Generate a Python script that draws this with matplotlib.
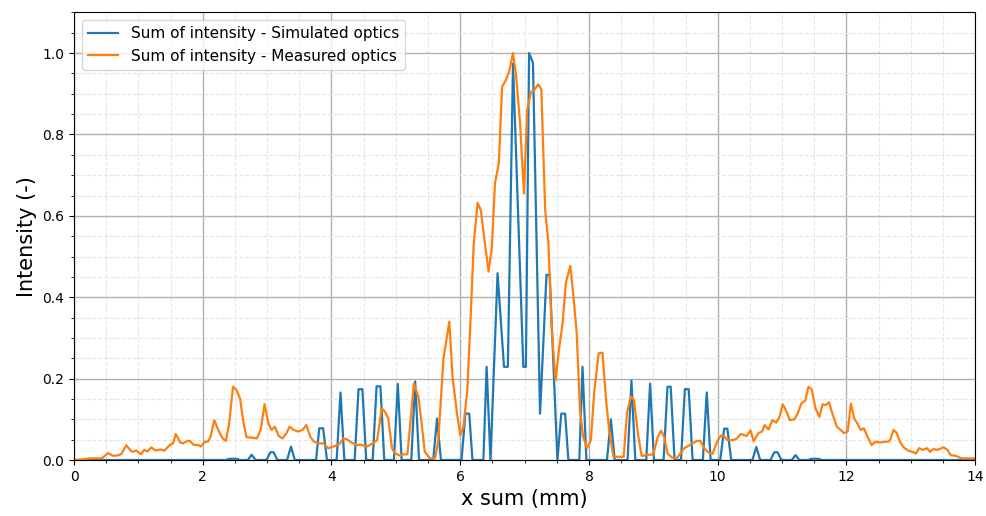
import matplotlib
matplotlib.use("Agg")
import matplotlib.pyplot as plt
from matplotlib.ticker import MultipleLocator

# Simulated optics (x, y vertices)
sim_x = [0.0, 2.35, 2.42, 2.52, 2.58, 2.70, 2.76, 2.82, 2.99, 3.05, 3.10, 3.16,
         3.31, 3.37, 3.43, 3.76, 3.81, 3.87, 3.93, 4.08, 4.14, 4.20, 4.36, 4.42,
         4.48, 4.54, 4.64, 4.70, 4.76, 4.82, 4.97, 5.03, 5.09, 5.24, 5.30, 5.36,
         5.58, 5.64, 5.70, 6.02, 6.08, 6.14, 6.19, 6.36, 6.41, 6.47, 6.58, 6.68,
         6.74, 6.82, 6.98, 7.02, 7.07, 7.13, 7.24, 7.34, 7.39, 7.51, 7.57, 7.63,
         7.68, 7.85, 7.90, 7.96, 8.28, 8.34, 8.40, 8.60, 8.66, 8.72, 8.89, 8.95,
         9.01, 9.16, 9.22, 9.27, 9.33, 9.43, 9.49, 9.55, 9.61, 9.77, 9.83, 9.89,
         10.04, 10.10, 10.15, 10.21, 10.54, 10.60, 10.66, 10.82, 10.88, 10.93,
         10.99, 11.15, 11.21, 11.27, 11.40, 11.46, 11.56, 11.62, 14.0]
sim_y = [0, 0, 0.003, 0.003, 0, 0, 0.013, 0, 0, 0.019, 0.019, 0,
         0, 0.033, 0, 0, 0.078, 0.078, 0, 0, 0.166, 0, 0, 0.174,
         0.174, 0, 0, 0.181, 0.181, 0, 0, 0.187, 0, 0, 0.193, 0,
         0, 0.102, 0, 0, 0.114, 0.114, 0, 0, 0.229, 0, 0.459, 0.229,
         0.229, 0.974, 0.229, 0.229, 1.0, 0.976, 0.114, 0.455, 0.455, 0, 0.114, 0.114,
         0, 0, 0.229, 0, 0, 0.100, 0, 0, 0.195, 0, 0, 0.188,
         0, 0, 0.180, 0.180, 0, 0, 0.174, 0.174, 0, 0, 0.166, 0,
         0, 0.077, 0.077, 0, 0, 0.032, 0, 0, 0.019, 0.019,
         0, 0, 0.012, 0, 0, 0.003, 0.003, 0, 0]

# Measured optics (x, y vertices)
meas_x = [0.0, 0.1, 0.25, 0.43, 0.53, 0.61, 0.70, 0.74, 0.81, 0.90, 0.97, 1.04,
          1.09, 1.14, 1.20, 1.27, 1.34, 1.40, 1.49, 1.54, 1.58, 1.65, 1.70, 1.76,
          1.80, 1.86, 1.93, 1.97, 2.03, 2.08, 2.12, 2.18, 2.24, 2.31, 2.36, 2.41,
          2.47, 2.52, 2.58, 2.63, 2.68, 2.76, 2.84, 2.90, 2.96, 3.02, 3.07, 3.12,
          3.18, 3.24, 3.30, 3.35, 3.41, 3.48, 3.55, 3.61, 3.67, 3.73, 3.80, 3.87,
          3.95, 4.03, 4.08, 4.13, 4.18, 4.24, 4.31, 4.39, 4.47, 4.55, 4.63, 4.71,
          4.78, 4.83, 4.88, 4.94, 4.99, 5.06, 5.12, 5.18, 5.22, 5.28, 5.35, 5.40,
          5.45, 5.53, 5.61, 5.66, 5.74, 5.83, 5.88, 5.95, 6.00, 6.05, 6.11, 6.16,
          6.21, 6.27, 6.32, 6.39, 6.44, 6.49, 6.54, 6.60, 6.65, 6.71, 6.76, 6.82,
          6.87, 6.93, 6.99, 7.04, 7.10, 7.15, 7.21, 7.26, 7.32, 7.37, 7.42, 7.48,
          7.54, 7.59, 7.64, 7.71, 7.76, 7.81, 7.86, 7.91, 7.97, 8.03, 8.08, 8.15,
          8.21, 8.27, 8.32, 8.38, 8.54, 8.59, 8.65, 8.70, 8.76, 8.82, 8.90, 9.00,
          9.07, 9.12, 9.17, 9.22, 9.29, 9.36, 9.42, 9.48, 9.57, 9.68, 9.73, 9.79,
          9.86, 9.92, 9.99, 10.05, 10.10, 10.15, 10.24, 10.30, 10.36, 10.45, 10.51,
          10.56, 10.63, 10.69, 10.73, 10.79, 10.85, 10.91, 10.96, 11.01, 11.07,
          11.12, 11.19, 11.24, 11.30, 11.36, 11.41, 11.46, 11.52, 11.58, 11.63,
          11.68, 11.73, 11.78, 11.85, 11.91, 11.96, 12.02, 12.07, 12.12, 12.17,
          12.22, 12.27, 12.33, 12.39, 12.45, 12.52, 12.60, 12.65, 12.68, 12.73,
          12.78, 12.83, 12.89, 12.96, 13.03, 13.08, 13.13, 13.19, 13.25, 13.30,
          13.35, 13.41, 13.51, 13.57, 13.62, 13.70, 13.79, 14.00]
meas_y = [0.0, 0.001, 0.004, 0.004, 0.017, 0.010, 0.012, 0.016, 0.036, 0.020, 0.023, 0.014,
          0.025, 0.021, 0.031, 0.023, 0.026, 0.023, 0.037, 0.041, 0.064, 0.043, 0.041, 0.047,
          0.047, 0.037, 0.037, 0.033, 0.045, 0.045, 0.057, 0.098, 0.074, 0.053, 0.047, 0.090,
          0.180, 0.173, 0.151, 0.094, 0.056, 0.055, 0.053, 0.074, 0.137, 0.090, 0.074, 0.082,
          0.059, 0.053, 0.066, 0.082, 0.074, 0.070, 0.074, 0.086, 0.057, 0.045, 0.041, 0.041,
          0.029, 0.033, 0.037, 0.040, 0.053, 0.051, 0.043, 0.037, 0.037, 0.033, 0.040, 0.049,
          0.127, 0.119, 0.103, 0.029, 0.016, 0.011, 0.014, 0.014, 0.082, 0.188, 0.156, 0.090,
          0.020, 0.004, 0.004, 0.049, 0.250, 0.340, 0.205, 0.114, 0.061, 0.082, 0.172, 0.344,
          0.532, 0.632, 0.614, 0.524, 0.463, 0.520, 0.680, 0.729, 0.917, 0.934, 0.954, 1.000,
          0.942, 0.827, 0.655, 0.860, 0.905, 0.909, 0.923, 0.911, 0.614, 0.532, 0.327, 0.196,
          0.278, 0.335, 0.434, 0.477, 0.401, 0.311, 0.123, 0.057, 0.029, 0.049, 0.164, 0.262,
          0.264, 0.140, 0.066, 0.008, 0.008, 0.115, 0.156, 0.147, 0.065, 0.010, 0.012, 0.014,
          0.057, 0.072, 0.057, 0.016, 0.006, 0.004, 0.016, 0.029, 0.037, 0.047, 0.047, 0.029,
          0.018, 0.015, 0.045, 0.060, 0.058, 0.049, 0.049, 0.053, 0.064, 0.059, 0.073,
          0.046, 0.066, 0.070, 0.086, 0.075, 0.098, 0.092, 0.106, 0.137, 0.119,
          0.098, 0.100, 0.113, 0.139, 0.146, 0.180, 0.174, 0.127, 0.106, 0.137,
          0.135, 0.142, 0.115, 0.082, 0.074, 0.066, 0.070, 0.139, 0.102, 0.090,
          0.074, 0.078, 0.057, 0.037, 0.045, 0.043, 0.045, 0.045, 0.049, 0.074,
          0.067, 0.045, 0.031, 0.023, 0.020, 0.016, 0.029, 0.025, 0.029, 0.020,
          0.027, 0.025, 0.031, 0.025, 0.012, 0.010, 0.004, 0.004]

fig = plt.figure(figsize=(9.87, 5.16), dpi=100)
ax = fig.add_axes([0.075, 0.1085, 0.913, 0.8675])

ax.plot(sim_x, sim_y, color="#1f77b4", lw=1.6, label="Sum of intensity - Simulated optics")
ax.plot(meas_x, meas_y, color="#ff7f0e", lw=1.6, label="Sum of intensity - Measured optics")

ax.set_xlim(0, 14)
ax.set_ylim(0, 1.1)
ax.xaxis.set_major_locator(MultipleLocator(2))
ax.xaxis.set_minor_locator(MultipleLocator(0.5))
ax.yaxis.set_major_locator(MultipleLocator(0.2))
ax.yaxis.set_minor_locator(MultipleLocator(0.05))
ax.grid(which="major", color="#b0b0b0", lw=1.0)
ax.grid(which="minor", color="#e6e6e6", lw=0.8, ls="--")
ax.set_axisbelow(True)
ax.tick_params(labelsize=10)
ax.set_xlabel("x sum (mm)", fontsize=15)
ax.set_ylabel("Intensity (-)", fontsize=15)
ax.legend(loc="upper left", fontsize=11)

fig.savefig("out.png", dpi=100)
